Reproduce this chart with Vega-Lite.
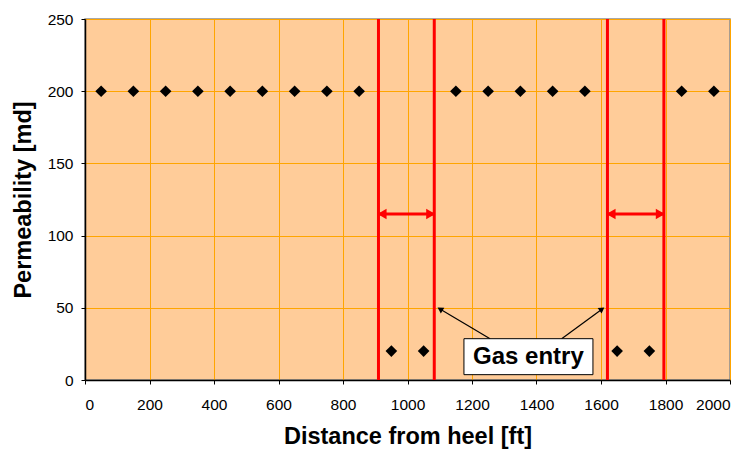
{
  "$schema": "https://vega.github.io/schema/vega-lite/v6.json",
  "autosize": "none",
  "width": 645,
  "height": 361,
  "padding": {"left": 85, "top": 19, "right": 18, "bottom": 69},
  "background": "white",
  "config": {
    "font": "Liberation Sans",
    "view": {"fill": "#FFCC99", "stroke": "#8C8C8C", "strokeWidth": 1.5},
    "axis": {
      "gridColor": "#FFA500",
      "gridOpacity": 1,
      "gridWidth": 1,
      "domainColor": "#000000",
      "domainWidth": 1.5,
      "tickColor": "#000000",
      "tickSize": 4,
      "labelFont": "Liberation Sans",
      "labelFontSize": 15.5,
      "labelColor": "#000000",
      "titleFont": "Liberation Sans",
      "titleFontSize": 23.5,
      "titleFontWeight": "bold",
      "titleColor": "#000000"
    }
  },
  "datasets": {
    "perm": [
      {"dist": 50, "perm": 200}, {"dist": 150, "perm": 200}, {"dist": 250, "perm": 200},
      {"dist": 350, "perm": 200}, {"dist": 450, "perm": 200}, {"dist": 550, "perm": 200},
      {"dist": 650, "perm": 200}, {"dist": 750, "perm": 200}, {"dist": 850, "perm": 200},
      {"dist": 950, "perm": 20}, {"dist": 1050, "perm": 20}, {"dist": 1150, "perm": 200},
      {"dist": 1250, "perm": 200}, {"dist": 1350, "perm": 200}, {"dist": 1450, "perm": 200},
      {"dist": 1550, "perm": 200}, {"dist": 1650, "perm": 20}, {"dist": 1750, "perm": 20},
      {"dist": 1850, "perm": 200}, {"dist": 1950, "perm": 200}
    ],
    "bounds": [{"x": 910}, {"x": 1083}, {"x": 1620}, {"x": 1795}],
    "spans": [{"x1": 912, "x2": 1081, "y": 115}, {"x1": 1622, "x2": 1793, "y": 115}],
    "heads": [
      {"x": 921, "y": 115, "shape": "triangle-left"},
      {"x": 1072, "y": 115, "shape": "triangle-right"},
      {"x": 1631, "y": 115, "shape": "triangle-left"},
      {"x": 1784, "y": 115, "shape": "triangle-right"}
    ],
    "pointers": [
      {"x1": 1256, "y1": 28.6, "x2": 1098, "y2": 49.5},
      {"x1": 1478, "y1": 28.6, "x2": 1606, "y2": 49.5}
    ],
    "tips": [
      {"x": 1101, "y": 49.1, "angle": 301},
      {"x": 1603, "y": 49.1, "angle": 54}
    ],
    "box": [{"x1": 1175, "x2": 1575, "y1": 3.7, "y2": 28.6, "label": "Gas entry", "cx": 1375, "cy": 10.8}]
  },
  "layer": [
    {
      "data": {"name": "perm"},
      "mark": {"type": "point", "shape": "diamond", "filled": true, "color": "#000000", "size": 135, "opacity": 1},
      "encoding": {
        "x": {"field": "dist", "type": "quantitative", "scale": {"domain": [0, 2000], "nice": false},
          "axis": {"title": "Distance from heel [ft]", "format": "d", "values": [0, 200, 400, 600, 800, 1000, 1200, 1400, 1600, 1800, 2000], "labelPadding": 13, "titlePadding": 12, "grid": true}},
        "y": {"field": "perm", "type": "quantitative", "scale": {"domain": [0, 250], "nice": false},
          "axis": {"title": "Permeability [md]", "values": [0, 50, 100, 150, 200, 250], "labelPadding": 8, "titlePadding": 12, "grid": true}}
      }
    },
    {
      "data": {"name": "bounds"},
      "mark": {"type": "rule", "color": "#FF0000", "strokeWidth": 3},
      "encoding": {"x": {"field": "x", "type": "quantitative"}}
    },
    {
      "data": {"name": "spans"},
      "mark": {"type": "rule", "color": "#FF0000", "strokeWidth": 3},
      "encoding": {
        "x": {"field": "x1", "type": "quantitative"},
        "x2": {"field": "x2"},
        "y": {"field": "y", "type": "quantitative"}
      }
    },
    {
      "data": {"name": "heads"},
      "mark": {"type": "point", "filled": true, "color": "#FF0000", "size": 110, "opacity": 1},
      "encoding": {
        "x": {"field": "x", "type": "quantitative"},
        "y": {"field": "y", "type": "quantitative"},
        "shape": {"field": "shape", "type": "nominal", "scale": null, "legend": null}
      }
    },
    {
      "data": {"name": "pointers"},
      "mark": {"type": "rule", "color": "#000000", "strokeWidth": 1.2},
      "encoding": {
        "x": {"field": "x1", "type": "quantitative"},
        "x2": {"field": "x2"},
        "y": {"field": "y1", "type": "quantitative"},
        "y2": {"field": "y2"}
      }
    },
    {
      "data": {"name": "tips"},
      "mark": {"type": "point", "shape": "triangle-up", "filled": true, "color": "#000000", "size": 45, "opacity": 1},
      "encoding": {
        "x": {"field": "x", "type": "quantitative"},
        "y": {"field": "y", "type": "quantitative"},
        "angle": {"field": "angle", "type": "quantitative", "scale": null}
      }
    },
    {
      "data": {"name": "box"},
      "mark": {"type": "rect", "fill": "#FFFFFF", "stroke": "#000000", "strokeWidth": 1},
      "encoding": {
        "x": {"field": "x1", "type": "quantitative"},
        "x2": {"field": "x2"},
        "y": {"field": "y1", "type": "quantitative"},
        "y2": {"field": "y2"}
      }
    },
    {
      "data": {"name": "box"},
      "mark": {"type": "text", "font": "Liberation Sans", "fontSize": 24, "fontWeight": "bold", "color": "#000000", "baseline": "alphabetic", "align": "center"},
      "encoding": {
        "x": {"field": "cx", "type": "quantitative"},
        "y": {"field": "cy", "type": "quantitative"},
        "text": {"field": "label"}
      }
    }
  ]
}
